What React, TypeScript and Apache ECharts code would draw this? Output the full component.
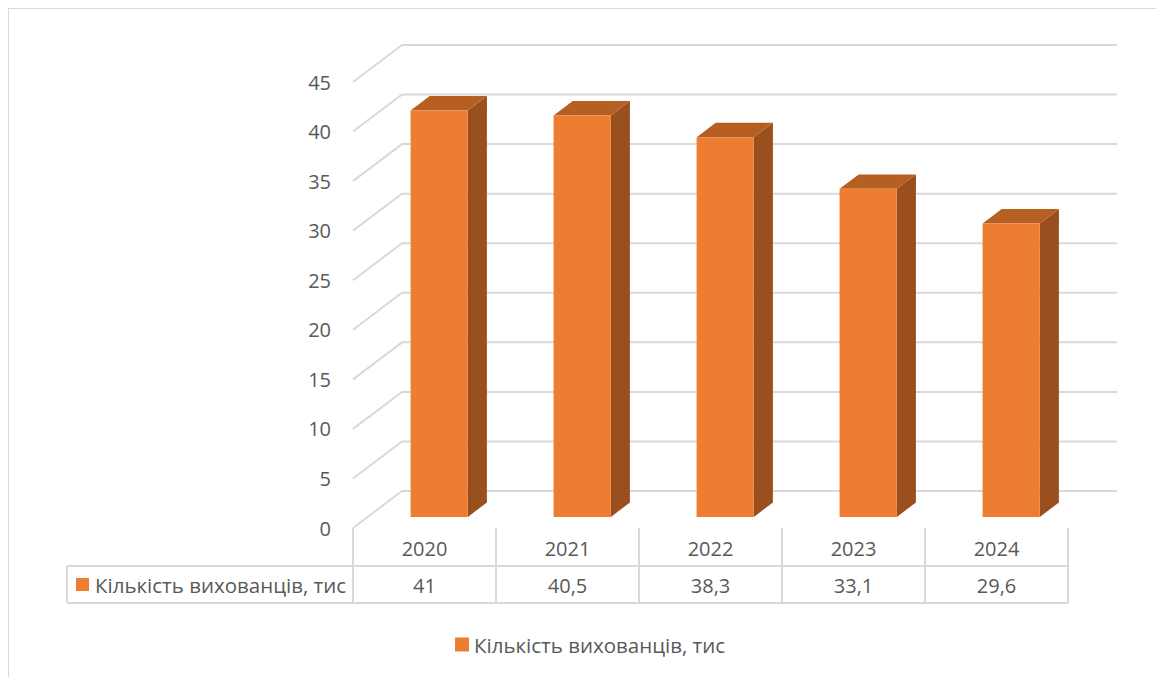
import React, { useEffect, useRef } from "react";
import * as echarts from "echarts";

const categories = ["2020", "2021", "2022", "2023", "2024"];
const values = [41, 40.5, 38.3, 33.1, 29.6];
const yTicks = [0, 5, 10, 15, 20, 25, 30, 35, 40, 45];
const seriesName = "Кількість вихованців, тис";

const valueLabels = values.map((v) => String(v).replace(".", ","));

const FONT = "'Open Sans', 'Noto Sans', sans-serif";
const TEXT = "#595959";
const LINE = "#d9d9d9";
const DEPTH = [49, -37];
const F0 = 0.3;
const F1 = 0.69;

export default function App() {
  const ref = useRef<HTMLDivElement>(null);
  useEffect(() => {
    if (!ref.current) return;
    const chart = echarts.init(ref.current, undefined, { renderer: "svg" });
    const gridLeft = 344;
    const gridTop = 73;
    const gridW = 715;
    const gridH = 446;
    const axisY = gridTop + gridH;
    const option: any = {
      animation: false,
      backgroundColor: "#ffffff",
      textStyle: { fontFamily: FONT },
      grid: { left: gridLeft, top: gridTop, width: gridW, height: gridH, containLabel: false },
      xAxis: {
        type: "category",
        data: categories,
        boundaryGap: true,
        axisLine: { show: false },
        axisTick: { show: true, length: 75, interval: 0, lineStyle: { color: LINE, width: 2 } },
        axisLabel: {
          interval: 0,
          margin: 2,
          color: TEXT,
          fontSize: 20,
          fontFamily: FONT,
          lineHeight: 37,
          formatter: (val: string, idx: number) => `${val}\n${valueLabels[idx]}`,
        },
        splitLine: { show: false },
      },
      yAxis: {
        type: "value",
        min: 0,
        max: 45,
        interval: 5,
        axisLine: { show: false },
        axisTick: { show: false },
        splitLine: { show: false },
        axisLabel: { margin: 22, color: TEXT, fontSize: 20, fontFamily: FONT },
      },
      legend: {
        data: [{ name: seriesName, icon: "rect", itemStyle: { color: "#ED7D31" } }],
        left: 441,
        top: 620,
        itemWidth: 14,
        itemHeight: 14,
        itemGap: 10,
        textStyle: { color: TEXT, fontSize: 20.5, fontFamily: FONT },
      },
      graphic: [
        { type: "line", shape: { x1: 58, y1: axisY + 38, x2: gridLeft + gridW, y2: axisY + 38 }, style: { stroke: LINE, lineWidth: 2 } },
        { type: "line", shape: { x1: 58, y1: axisY + 75, x2: gridLeft + gridW, y2: axisY + 75 }, style: { stroke: LINE, lineWidth: 2 } },
        { type: "line", shape: { x1: 58, y1: axisY + 38, x2: 58, y2: axisY + 75 }, style: { stroke: LINE, lineWidth: 2 } },
        { type: "rect", shape: { x: 67, y: axisY + 50, width: 13, height: 13 }, style: { fill: "#ED7D31" } },
        {
          type: "text",
          x: 86,
          y: axisY + 56.5,
          style: { text: seriesName, fill: TEXT, fontSize: 20.5, fontFamily: FONT, verticalAlign: "middle", align: "left" },
        },
      ],
      series: [
        {
          type: "custom",
          name: "grid",
          silent: true,
          clip: false,
          z: 1,
          data: yTicks.map((t) => [0, t]),
          encode: { x: 0, y: 1 },
          renderItem: (params: any, api: any) => {
            const cs = params.coordSys;
            const y = api.coord([0, api.value(1)])[1];
            return {
              type: "polyline",
              shape: {
                points: [
                  [cs.x, y],
                  [cs.x + DEPTH[0], y + DEPTH[1]],
                  [cs.x + cs.width + DEPTH[0], y + DEPTH[1]],
                ],
              },
              style: { stroke: LINE, lineWidth: 2, fill: "none" },
            };
          },
        },
        {
          type: "custom",
          name: seriesName,
          clip: false,
          z: 2,
          itemStyle: { color: "#ED7D31" },
          data: categories.map((c, i) => [i, values[i]]),
          encode: { x: 0, y: 1 },
          renderItem: (params: any, api: any) => {
            const ci = api.value(0);
            const v = api.value(1);
            const top = api.coord([ci, v]);
            const base = api.coord([ci, 0]);
            const band = api.size([1, 0])[0];
            const w = band * 0.4;
            const x0 = top[0] - w / 2 + F0 * DEPTH[0];
            const x1 = x0 + w;
            const yT = top[1] + F0 * DEPTH[1];
            const yB = base[1] + F0 * DEPTH[1];
            const dx = (F1 - F0) * DEPTH[0];
            const dy = (F1 - F0) * DEPTH[1];
            return {
              type: "group",
              children: [
                {
                  type: "polygon",
                  shape: { points: [[x1, yT], [x1 + dx, yT + dy], [x1 + dx, yB + dy], [x1, yB]] },
                  style: { fill: "#9A4F1E" },
                },
                {
                  type: "polygon",
                  shape: { points: [[x0, yT], [x1, yT], [x1 + dx, yT + dy], [x0 + dx, yT + dy]] },
                  style: { fill: "#B55F23" },
                },
                {
                  type: "rect",
                  shape: { x: x0, y: yT, width: w, height: yB - yT },
                  style: { fill: "#ED7D31" },
                },
              ],
            };
          },
        },
      ],
    };
    chart.setOption(option);
    return () => chart.dispose();
  }, []);
  return (
    <div
      style={{
        width: 1155,
        height: 669,
        boxSizing: "border-box",
        borderLeft: "1px solid #d9d9d9",
        borderTop: "1px solid #d9d9d9",
        borderRight: "1px solid #d9d9d9",
        background: "#fff",
      }}
    >
      <div ref={ref} style={{ width: 1153, height: 668 }} />
    </div>
  );
}
